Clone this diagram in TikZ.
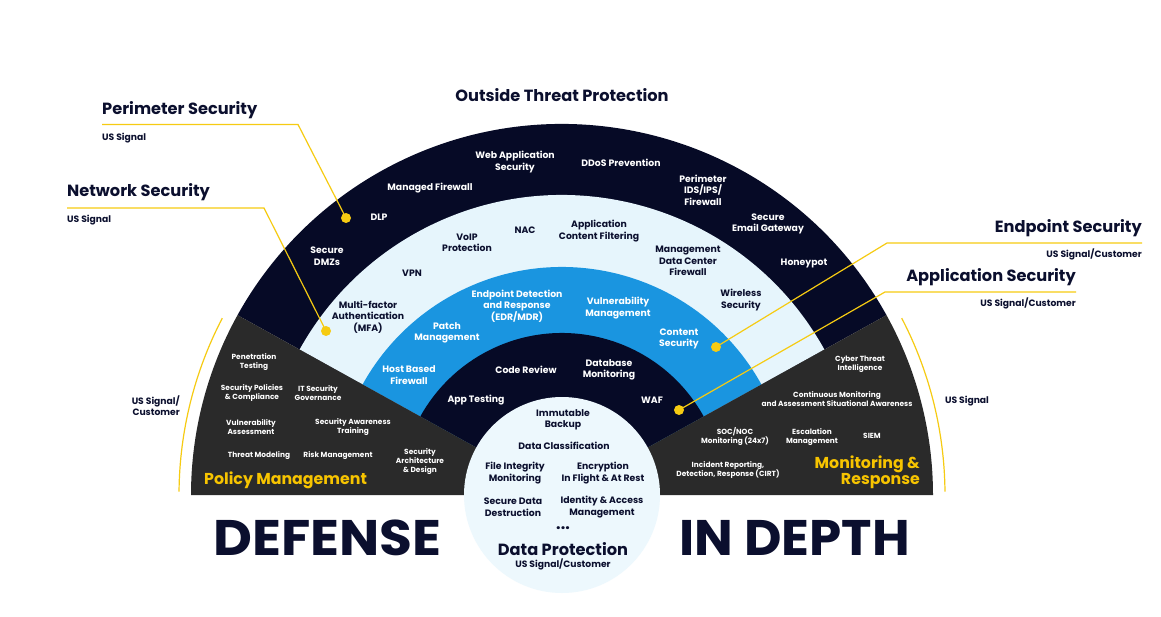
\documentclass[tikz,border=0pt]{standalone}
\usepackage{fontspec}
\setmainfont{Poppins}
\definecolor{navy}{HTML}{060A26}
\definecolor{ink}{HTML}{0B0F2E}
\definecolor{lightring}{HTML}{E6F5FC}
\definecolor{bluering}{HTML}{1A95E0}
\definecolor{wedge}{HTML}{2A2A2A}
\definecolor{datafill}{HTML}{EDF8FD}
\definecolor{ylw}{HTML}{F6CB12}
\definecolor{ylwtext}{HTML}{F7C400}
\begin{document}
\begin{tikzpicture}[x=1pt,y=-1pt,
  lbl/.style={font=\bfseries\fontsize{9.3}{11.5}\selectfont, align=center, inner sep=0pt},
  wl/.style={lbl, text=white},
  nl/.style={lbl, text=ink},
  tiny/.style={font=\bfseries\fontsize{7.4}{9}\selectfont, align=center, inner sep=0pt, text=white},
  head/.style={font=\bfseries\fontsize{16.2}{18}\selectfont, text=ink, inner sep=0pt},
  sub/.style={font=\bfseries\fontsize{9.2}{11}\selectfont, text=ink, inner sep=0pt},
  big/.style={font=\bfseries\fontsize{50}{52}\selectfont, text=ink, inner sep=0pt},
  yhead/.style={font=\bfseries\fontsize{15.8}{16}\selectfont, text=ylwtext, inner sep=0pt},
  dot/.style={circle, fill=ylw, minimum size=10pt, inner sep=0pt},
  yline/.style={draw=ylw, line width=1.2pt},
]
\useasboundingbox (0,0) rectangle (1161,617);
\fill[white] (0,0) rectangle (1161,617);
\coordinate (O) at (562,495);
% rings
\fill[navy] (O) -- ++(-29:371) arc[start angle=-29, end angle=-151, radius=371] -- cycle;
\fill[lightring] (O) -- ++(-29:300) arc[start angle=-29, end angle=-151, radius=300] -- cycle;
\fill[bluering] (O) -- ++(-29:228) arc[start angle=-29, end angle=-151, radius=228] -- cycle;
\fill[navy] (O) -- ++(-29:162) arc[start angle=-29, end angle=-151, radius=162] -- cycle;
% wedges
\fill[wedge] (O) -- ++(0:371) arc[start angle=0, end angle=-29, radius=371] -- cycle;
\fill[wedge] (O) -- ++(-151:371) arc[start angle=-151, end angle=-180, radius=371] -- cycle;
% data circle
\fill[datafill] (O) circle[radius=98];
% yellow arcs
\draw[yline] (O) ++(-152.5:383) arc[start angle=-152.5, end angle=-179.5, radius=383];
\draw[yline] (O) ++(-27.5:383) arc[start angle=-27.5, end angle=-0.5, radius=383];

% title
\node[head, anchor=base] (title) at (562,102) {Outside Threat Protection};

% callouts
\node[head, anchor=base west] (perim) at (102,115) {Perimeter Security};
\node[sub, anchor=base west] (perimsub) at (102,141) {US Signal};
\node[head, anchor=base west] (netw) at (67,197) {Network Security};
\node[sub, anchor=base west] (netwsub) at (67,223) {US Signal};
\node[head, anchor=base east] (endp) at (1142,233) {Endpoint Security};
\node[sub, anchor=base east] (endpsub) at (1142,258) {US Signal/Customer};
\node[head, anchor=base east] (appl) at (1076,282) {Application Security};
\node[sub, anchor=base east] (applsub) at (1076,307) {US Signal/Customer};

\node[dot] (dperim) at (346,218) {};
\node[dot] (dnetw) at (326,331) {};
\node[dot] (dendp) at (716,347) {};
\node[dot] (dappl) at (679,410) {};
\coordinate (perimA) at (102,124.5);
\coordinate (perimB) at (298,124.5);
\coordinate (netwA) at (67,208);
\coordinate (netwB) at (264,208);
\coordinate (endpA) at (1142,243);
\coordinate (endpB) at (887,243);
\coordinate (applA) at (1076,292);
\coordinate (applB) at (885,292);
\draw[yline] (perimA) -- (perimB) -- (dperim.center);
\draw[yline] (netwA) -- (netwB) -- (dnetw.center);
\draw[yline] (endpA) -- (endpB) -- (dendp.center);
\draw[yline] (applA) -- (applB) -- (dappl.center);

% outer navy ring
\node[wl] (n1) at (515,162) {Web Application\\Security};
\node[wl] (n2) at (621,163) {DDoS Prevention};
\node[wl] (n3) at (430,188) {Managed Firewall};
\node[wl] (n4) at (703,190) {Perimeter\\IDS/IPS/\\Firewall};
\node[wl] (n5) at (379,217) {DLP};
\node[wl] (n6) at (768,224) {Secure\\Email Gateway};
\node[wl] (n7) at (327,256) {Secure\\DMZs};
\node[wl] (n8) at (804,263) {Honeypot};

% light ring
\node[nl] (l1) at (467,243) {VoIP\\Protection};
\node[nl] (l2) at (525,230) {NAC};
\node[nl] (l3) at (599,231) {Application\\Content Filtering};
\node[nl] (l4) at (688,261) {Management\\Data Center\\Firewall};
\node[nl] (l5) at (412,273) {VPN};
\node[nl] (l6) at (368,317) {Multi-factor\\Authentication\\(MFA)};
\node[nl] (l7) at (741,300) {Wireless\\Security};

% blue ring
\node[wl] (b1) at (517,306) {Endpoint Detection\\and Response\\(EDR/MDR)};
\node[wl] (b2) at (618,308) {Vulnerability\\Management};
\node[wl] (b3) at (447,333) {Patch\\Management};
\node[wl] (b4) at (679,339) {Content\\Security};
\node[wl] (b5) at (409,375) {Host Based\\Firewall};

% inner navy ring
\node[wl] (i1) at (526,370) {Code Review};
\node[wl] (i2) at (609,370) {Database\\Monitoring};
\node[wl] (i3) at (476,400) {App Testing};
\node[wl] (i4) at (652,400) {WAF};

% data protection
\node[nl] (d1) at (563,420) {Immutable\\Backup};
\node[nl] (d2) at (564,446) {Data Classification};
\node[nl] (d3) at (515,473) {File Integrity\\Monitoring};
\node[nl] (d4) at (603,473) {Encryption\\In Flight \& At Rest};
\node[nl] (d5) at (513,507) {Secure Data\\Destruction};
\node[nl] (d6) at (602,507) {Identity \& Access\\Management};
\node[nl, font=\bfseries\fontsize{16}{16}\selectfont] (d7) at (563,528) {...};
\node[head, anchor=base] (d8) at (563,555) {Data Protection};
\node[sub, anchor=base] (d9) at (563,567) {US Signal/Customer};

% policy management wedge
\node[tiny] (p1) at (254,362) {Penetration\\Testing};
\node[tiny] (p2) at (252,393) {Security Policies\\\& Compliance};
\node[tiny] (p3) at (318,393) {IT Security\\Governance};
\node[tiny] (p4) at (251,427) {Vulnerability\\Assessment};
\node[tiny] (p5) at (353,427) {Security Awareness\\Training};
\node[tiny] (p6) at (259,456) {Threat Modeling};
\node[tiny] (p7) at (338,456) {Risk Management};
\node[tiny] (p8) at (420,462) {Security\\Architecture\\\& Design};
\node[yhead, anchor=base west] (pm) at (204,484) {Policy Management};

% monitoring wedge
\node[tiny] (r1) at (860,364) {Cyber Threat\\Intelligence};
\node[tiny] (r2) at (837,399) {Continuous Monitoring\\and Assessment Situational Awareness};
\node[tiny] (r3) at (735,437) {SOC/NOC\\Monitoring (24x7)};
\node[tiny] (r4) at (812,437) {Escalation\\Management};
\node[tiny] (r5) at (872,436) {SIEM};
\node[tiny] (r6) at (728,470) {Incident Reporting,\\Detection, Response (CIRT)};
\node[yhead, anchor=base east, align=right] (rm1) at (920,468) {Monitoring \&};
\node[yhead, anchor=base east, align=right] (rm2) at (920,484) {Response};

% side labels
\node[sub, align=right, anchor=east] (lside) at (180,406) {US Signal/\\Customer};
\node[sub] (rside) at (967,401) {US Signal};

% big words
\node[big, anchor=base west] (def) at (213,555) {\scalebox{1.07}[1]{DEFENSE}};
\node[big, anchor=base east] (dep) at (910,555) {\scalebox{1.03}[1]{IN DEPTH}};
\end{tikzpicture}
\end{document}
